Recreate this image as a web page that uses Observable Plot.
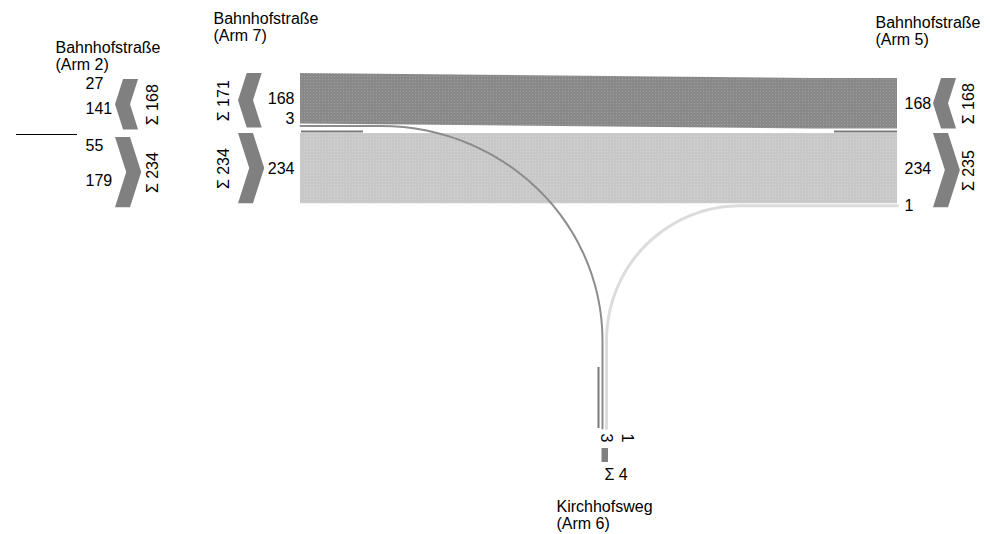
<!DOCTYPE html>
<html>
<head>
<meta charset="utf-8">
<script src="https://cdn.jsdelivr.net/npm/d3@7"></script>
<script src="https://cdn.jsdelivr.net/npm/@observablehq/plot@0.6"></script>
<style>
  body { margin: 0; background: #fff; }
  svg { display: block; }
</style>
</head>
<body>
<div id="chart"></div>
<script>
// ---------------- DATA ----------------
const armIds      = ["Arm 2", "Arm 7", "Arm 5", "Arm 6"];
const armStreets  = ["Bahnhofstraße", "Bahnhofstraße", "Bahnhofstraße", "Kirchhofsweg"];
// traffic streams between the arms
const flowFrom   = ["Arm 5", "Arm 7", "Arm 6", "Arm 6"];
const flowTo     = ["Arm 7", "Arm 5", "Arm 7", "Arm 5"];
const flowValues = [168, 234, 3, 1];
// Arm 2 (drawn apart, not connected)
const arm2OutValues = [27, 141];
const arm2InValues  = [55, 179];

// ---------------- LAYOUT ----------------
const k = 0.3;                         // px per vehicle
const minW = 4;                        // minimum thickness of a stream
const size = v => Math.max(v * k, minW);
const L = {
  arm7X: 300, arm5X: 897, taperEnd: 812,
  westTop7: 73, westTop5: 78, eastTop: 133,
  arm2WestTop: 79, arm2EastTop: 137,
  arm6X0: 602, arm6Gap: 4, arm6Bend: 340, arm6End: 428,
  bend7X: 380, bend5X: 740,
  chev2X: 115, chev7X: 238, chev5X: 933, chevW: 15
};
const DARK = "#8c8c8c", LIGHT = "#dcdcdc", CHEV = "#808080", STUB = "#7a7a7a";

function stack(list, top) {
  let y = top;
  return list.map(f => { const h = size(f.v); const s = {...f, y0: y, y1: y + h, yc: y + h / 2}; y += h; return s; });
}
const flows = flowValues.map((v, i) => ({id: i, from: flowFrom[i], to: flowTo[i], v}));
const west7 = stack(flows.filter(f => f.to === "Arm 7"), L.westTop7);
const west5 = stack(flows.filter(f => f.from === "Arm 5"), L.westTop5);
const east7 = stack(flows.filter(f => f.from === "Arm 7"), L.eastTop);
const east5 = stack(flows.filter(f => f.to === "Arm 5"), L.eastTop);
const arm6  = flows.filter(f => f.from === "Arm 6").map((f, i) => ({...f, x: L.arm6X0 + i * L.arm6Gap}));
const groupBottom = g => g[g.length - 1].y1;
const groupSum = g => d3.sum(g, d => d.v);

// direct bands between Arm 7 and Arm 5
const bandPts = [];
flows.filter(f => f.from !== "Arm 6" && f.to !== "Arm 6").forEach(f => {
  const a = [...west7, ...east7].find(s => s.id === f.id);
  const b = [...west5, ...east5].find(s => s.id === f.id);
  const fill = f.to === "Arm 7" ? "url(#patDark)" : "url(#patLight)";
  bandPts.push({id: f.id, fill, x: L.arm7X, y1: a.y0, y2: a.y1});
  bandPts.push({id: f.id, fill, x: L.taperEnd, y1: b.y0, y2: b.y1});
  bandPts.push({id: f.id, fill, x: L.arm5X, y1: b.y0, y2: b.y1});
});

// turning streams to / from Arm 6
const turnPts = [];
arm6.forEach(f => {
  const toWest = f.to === "Arm 7";
  const seg = toWest ? west7.find(s => s.id === f.id) : east5.find(s => s.id === f.id);
  const startX = toWest ? L.arm7X : L.arm5X;
  const bendX = toWest ? L.bend7X : L.bend5X;
  const color = toWest ? DARK : LIGHT;
  const rx = f.x - bendX, ry = L.arm6Bend - seg.yc;
  turnPts.push({id: f.id, color, x: startX, y: seg.yc});
  for (let a = 0; a <= 90; a += 3) {
    const t = a * Math.PI / 180;
    turnPts.push({id: f.id, color, x: bendX + rx * Math.sin(t), y: L.arm6Bend - ry * Math.cos(t)});
  }
  turnPts.push({id: f.id, color, x: f.x, y: L.arm6End});
});

// chevrons
function chevron(id, xL, top, h, dir) {
  const s = 0.16 * h, w = L.chevW;
  const flat = dir === "left" ? [xL + s, xL + s + w] : [xL, xL + w];
  const mid  = dir === "left" ? [xL, xL + w] : [xL + s, xL + s + w];
  return [
    {id, y: top, x1: flat[0], x2: flat[1]},
    {id, y: top + h / 2, x1: mid[0], x2: mid[1]},
    {id, y: top + h, x1: flat[0], x2: flat[1]}
  ];
}
const arm2West = stack(arm2OutValues.map(v => ({v})), L.arm2WestTop);
const arm2East = stack(arm2InValues.map(v => ({v})), L.arm2EastTop);
const chevGroups = [
  {id: "a2w", xL: L.chev2X, g: arm2West, dir: "left", sx: 152},
  {id: "a2e", xL: L.chev2X, g: arm2East, dir: "right", sx: 152},
  {id: "a7w", xL: L.chev7X, g: west7, dir: "left", sx: 223},
  {id: "a7e", xL: L.chev7X, g: east7, dir: "right", sx: 223},
  {id: "a5w", xL: L.chev5X, g: west5, dir: "left", sx: 968},
  {id: "a5e", xL: L.chev5X, g: east5, dir: "right", sx: 968}
];
const chevPts = chevGroups.flatMap(c => chevron(c.id, c.xL, c.g[0].y0, groupBottom(c.g) - c.g[0].y0, c.dir));
const sumLabels = chevGroups.map(c => ({x: c.sx, y: (c.g[0].y0 + groupBottom(c.g)) / 2, text: "Σ " + groupSum(c.g)}));

// value labels
const labelY = (s, g, isWest) => isWest ? Math.min(s.yc, groupBottom(g) - 9) : s.yc;
const arm7Labels = [...west7.map(s => ({x: 294, y: labelY(s, west7, true), text: String(s.v)})),
                    ...east7.map(s => ({x: 294, y: labelY(s, east7, false), text: String(s.v)}))];
const arm5Labels = [...west5.map(s => ({x: 904, y: labelY(s, west5, true), text: String(s.v)})),
                    ...east5.map(s => ({x: 904, y: labelY(s, east5, false), text: String(s.v)}))];
const arm2Labels = [...arm2West, ...arm2East].map(s => ({x: 85, y: s.yc, text: String(s.v)}));
let prevX = -Infinity;
const arm6Labels = arm6.map(f => { const x = Math.max(f.x + 4, prevX + 21); prevX = x; return {x, y: 433, text: String(f.v)}; });
const arm6Box = [{x1: d3.min(arm6, d => d.x) - 0.5, x2: d3.max(arm6, d => d.x) + 2, y1: 448, y2: 462}];
const arm6Sum = [{x: 604, y: 474, text: "Σ " + d3.sum(arm6, d => d.v)}];

const titles = [
  {x: 55,  y: 39.5, text: armStreets[0] + "\n(" + armIds[0] + ")"},
  {x: 213, y: 10.5, text: armStreets[1] + "\n(" + armIds[1] + ")"},
  {x: 875, y: 14.5, text: armStreets[2] + "\n(" + armIds[2] + ")"},
  {x: 556, y: 498.5, text: armStreets[3] + "\n(" + armIds[3] + ")"}
];
const stubsH = [{y: 131, x1: 301, x2: 363}, {y: 131, x1: 834, x2: 897}];
const stubsV = [{x: 598, y1: 367, y2: L.arm6End}];
const blackLine = [{y: 134, x1: 16, x2: 77}];

const FS = 16;
const svg = Plot.plot({
  width: 990, height: 534,
  marginTop: 0, marginRight: 0, marginBottom: 0, marginLeft: 0,
  x: {domain: [0, 990], range: [0, 990], axis: null},
  y: {domain: [0, 534], range: [0, 534], axis: null},
  style: {fontFamily: "'Liberation Sans', Arial, sans-serif", fontSize: "16px", background: "#fff"},
  marks: [
    Plot.areaY(bandPts, {x: "x", y1: "y1", y2: "y2", z: "id", fill: "fill", curve: "linear"}),
    Plot.ruleY(stubsH, {y: "y", x1: "x1", x2: "x2", stroke: STUB, strokeWidth: 2}),
    Plot.ruleX(stubsV, {x: "x", y1: "y1", y2: "y2", stroke: STUB, strokeWidth: 2}),
    Plot.line(turnPts.filter(d => d.color === LIGHT), {x: "x", y: "y", z: "id", stroke: LIGHT, strokeWidth: 3}),
    Plot.line(turnPts.filter(d => d.color === DARK), {x: "x", y: "y", z: "id", stroke: DARK, strokeWidth: 2}),
    Plot.areaX(chevPts, {y: "y", x1: "x1", x2: "x2", z: "id", fill: CHEV, curve: "linear"}),
    Plot.rect(arm6Box, {x1: "x1", x2: "x2", y1: "y1", y2: "y2", fill: CHEV}),
    Plot.ruleY(blackLine, {y: "y", x1: "x1", x2: "x2", stroke: "#000", strokeWidth: 1}),
    Plot.text(sumLabels, {x: "x", y: "y", text: "text", rotate: -90, fontSize: FS, fill: "#000"}),
    Plot.text(arm7Labels, {x: "x", y: "y", text: "text", textAnchor: "end", fontSize: FS, fill: "#000"}),
    Plot.text(arm5Labels, {x: "x", y: "y", text: "text", textAnchor: "start", fontSize: FS, fill: "#000"}),
    Plot.text(arm2Labels, {x: "x", y: "y", text: "text", textAnchor: "start", fontSize: FS, fill: "#000"}),
    Plot.text(arm6Labels, {x: "x", y: "y", text: "text", rotate: 90, textAnchor: "start", fontSize: FS, fill: "#000"}),
    Plot.text(arm6Sum, {x: "x", y: "y", text: "text", textAnchor: "start", fontSize: FS, fill: "#000"}),
    Plot.text(titles, {x: "x", y: "y", text: "text", textAnchor: "start", lineAnchor: "top", lineHeight: 1.1, fontSize: FS, fill: "#000"})
  ]
});

const defs = d3.select(svg).insert("defs", ":first-child");
const pd = defs.append("pattern").attr("id", "patDark").attr("width", 3).attr("height", 3).attr("patternUnits", "userSpaceOnUse");
pd.append("rect").attr("width", 3).attr("height", 3).attr("fill", "#898989");
pd.append("rect").attr("x", 1).attr("y", 1).attr("width", 1).attr("height", 1).attr("fill", "#a0a0a0");
const pl = defs.append("pattern").attr("id", "patLight").attr("width", 3).attr("height", 3).attr("patternUnits", "userSpaceOnUse");
pl.append("rect").attr("width", 3).attr("height", 3).attr("fill", "#c8c8c8");
pl.append("rect").attr("x", 1).attr("y", 1).attr("width", 1).attr("height", 1).attr("fill", "#d6d6d6");

document.getElementById("chart").appendChild(svg);
</script>
</body>
</html>
